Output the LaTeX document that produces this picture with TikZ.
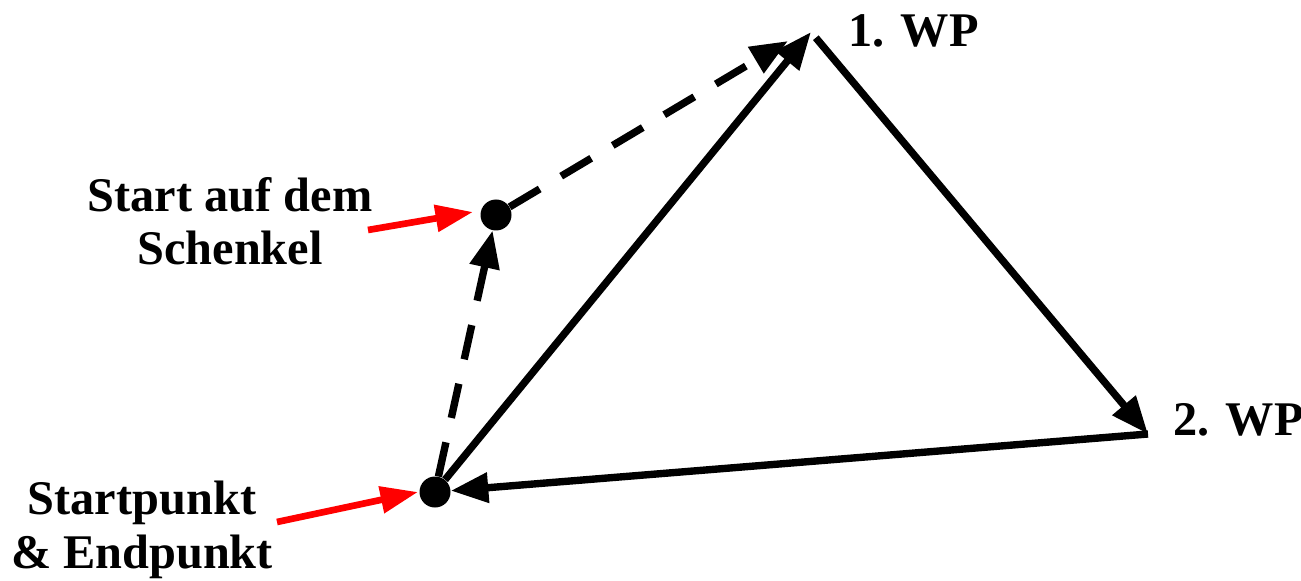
\documentclass[tikz,border=0pt]{standalone}
\usepackage{fontspec}
\setmainfont{Liberation Serif}
\usetikzlibrary{arrows.meta}
\begin{document}
\begin{tikzpicture}[
            punkt/.style={circle, fill=black, minimum size=6.2mm, inner sep=0pt},
            weg/.style={line width=4.2pt, -{Triangle[length=7.5mm,width=5.8mm]}},
            umweg/.style={weg, dash pattern=on 7mm off 5mm},
            zeiger/.style={red, line width=3.8pt, -{Triangle[length=7.5mm,width=5.2mm]}},
            beschr/.style={font=\fontsize{27.5}{30.5}\selectfont\bfseries, align=center, inner sep=0pt}
            ]
            \useasboundingbox (0,0) rectangle (26.02,11.6);
            \node[punkt] (s) at (8.70,1.76) {};
            \node[punkt] (k) at (9.92,7.30) {};
            \coordinate (wp1) at (16.22,10.96);
            \coordinate (wp2) at (22.96,2.92);
            \coordinate (wp1d) at (15.76,10.78);
            \coordinate (ka) at (7.36,7.0);
            \coordinate (kt) at (9.46,7.36);
            \coordinate (sa) at (5.54,1.16);
            \coordinate (st) at (8.36,1.76);

            \node[beschr, anchor=base west] (l1) at (16.96,10.66) {1. WP};
            \node[beschr, anchor=base west] (l2) at (23.46,2.90) {2. WP};
            \node[beschr, anchor=north] (lk) at (4.6,8.06) {Start auf dem\\Schenkel};
            \node[beschr, anchor=north] (ls) at (2.84,1.98) {Startpunkt\\\& Endpunkt};

            \draw[weg] (s) -- (wp1);
            \draw[weg, shorten <=1.5mm] (wp1) -- (wp2);
            \draw[weg] (wp2) -- (s);
            \draw[umweg] (s) -- (k);
            \draw[umweg] (k) -- (wp1d);
            \draw[zeiger] (ka) -- (kt);
            \draw[zeiger] (sa) -- (st);
            \end{tikzpicture}
\end{document}
